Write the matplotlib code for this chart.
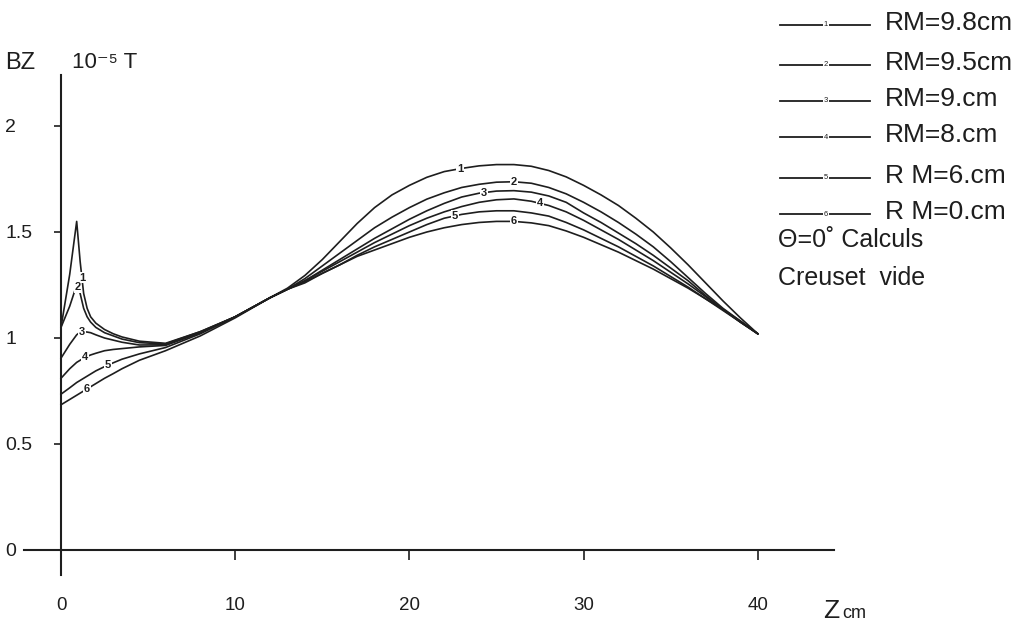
import numpy as np
import matplotlib.pyplot as plt
from matplotlib.lines import Line2D

plt.rcParams['font.family'] = ['Liberation Sans', 'DejaVu Sans']

# axial field BZ (10^-5 T) along z (cm), theta = 0, empty crucible
z = [0, 0.5, 0.9, 1.1, 1.3, 1.5, 1.7, 2, 2.5, 3, 3.5, 4.5, 6, 8, 10, 12,
     13, 14, 15, 16, 17, 18, 19, 20, 21, 22, 23, 24, 25, 26,
     27, 28, 29, 30, 31, 32, 33, 34, 35, 36, 37, 38, 39, 40]
bz_98 = [1.05, 1.30, 1.55, 1.36, 1.21, 1.14, 1.10, 1.07, 1.04, 1.02, 1.005, 0.985, 0.975, 1.03, 1.10, 1.19,
         1.235, 1.295, 1.37, 1.455, 1.54, 1.615, 1.675, 1.72, 1.758, 1.785, 1.80, 1.812, 1.818, 1.818,
         1.81, 1.79, 1.76, 1.72, 1.675, 1.625, 1.565, 1.50, 1.425, 1.345, 1.26, 1.175, 1.095, 1.02]
bz_95 = [1.05, 1.15, 1.25, 1.21, 1.14, 1.10, 1.075, 1.05, 1.025, 1.01, 0.995, 0.978, 0.972, 1.03, 1.10, 1.19,
         1.23, 1.28, 1.34, 1.40, 1.46, 1.52, 1.57, 1.615, 1.655, 1.685, 1.71, 1.725, 1.735, 1.737,
         1.73, 1.71, 1.68, 1.64, 1.595, 1.545, 1.49, 1.43, 1.36, 1.285, 1.21, 1.14, 1.08, 1.02]
bz_90 = [0.905, 0.97, 1.015, 1.028, 1.03, 1.028, 1.025, 1.015, 1.00, 0.99, 0.98, 0.967, 0.968, 1.025, 1.10, 1.19,
         1.23, 1.27, 1.32, 1.37, 1.42, 1.47, 1.515, 1.56, 1.60, 1.635, 1.665, 1.683, 1.693, 1.695,
         1.688, 1.67, 1.64, 1.59, 1.545, 1.495, 1.445, 1.39, 1.33, 1.27, 1.20, 1.135, 1.075, 1.02]
bz_80 = [0.81, 0.855, 0.885, 0.895, 0.905, 0.913, 0.92, 0.928, 0.94, 0.946, 0.95, 0.958, 0.965, 1.025, 1.10, 1.19,
         1.23, 1.27, 1.315, 1.36, 1.405, 1.45, 1.49, 1.53, 1.565, 1.595, 1.62, 1.64, 1.652, 1.656,
         1.645, 1.625, 1.595, 1.555, 1.51, 1.465, 1.415, 1.365, 1.31, 1.255, 1.195, 1.135, 1.075, 1.02]
bz_60 = [0.735, 0.765, 0.79, 0.80, 0.81, 0.82, 0.83, 0.845, 0.865, 0.883, 0.90, 0.925, 0.955, 1.02, 1.10, 1.19,
         1.23, 1.265, 1.305, 1.345, 1.39, 1.43, 1.465, 1.50, 1.535, 1.565, 1.583, 1.595, 1.60, 1.60,
         1.59, 1.575, 1.545, 1.51, 1.47, 1.43, 1.385, 1.34, 1.29, 1.24, 1.185, 1.13, 1.075, 1.02]
bz_00 = [0.685, 0.71, 0.73, 0.74, 0.75, 0.76, 0.77, 0.785, 0.81, 0.832, 0.855, 0.895, 0.94, 1.01, 1.095, 1.19,
         1.23, 1.26, 1.305, 1.345, 1.385, 1.415, 1.445, 1.475, 1.50, 1.52, 1.535, 1.545, 1.55, 1.55,
         1.543, 1.53, 1.505, 1.475, 1.44, 1.405, 1.365, 1.325, 1.28, 1.235, 1.185, 1.135, 1.08, 1.02]
curves = [bz_98, bz_95, bz_90, bz_80, bz_60, bz_00]
names = ['RM=9.8cm', 'RM=9.5cm', 'RM=9.cm', 'RM=8.cm', 'R M=6.cm', 'R M=0.cm']
lab_left = [1.2, 0.95, 1.2, 1.4, 2.7, 1.5]       # z of curve numbers near the wall
lab_right = [22.9, 26.0, 24.3, 27.5, 22.6, 26.0]  # z of curve numbers near the maximum

yticks = [0, 0.5, 1, 1.5, 2]
ytick_labels = ['0', '0.5', '1', '1.5', '2']
xticks = [0, 10, 20, 30, 40]
xtick_labels = ['0', '10', '20', '30', '40']

ink = '#1e1e1e'
W, H = 1030, 625
fig = plt.figure(figsize=(W / 100, H / 100), dpi=100)
ax = fig.add_axes([0, 0, 1, 1])
ax.patch.set_visible(False)

# pixel layout of the scanned figure
x0, px = 61, 17.42
y0, py = 550, 212
ax.set_xlim(-x0 / px, (W - x0) / px)
ax.set_ylim(-(H - y0) / py, y0 / py)

for s in ['top', 'right']:
    ax.spines[s].set_visible(False)
ax.spines['left'].set_position(('data', 0))
ax.spines['bottom'].set_position(('data', 0))
ax.spines['left'].set_bounds(-0.12, 2.24)
ax.spines['bottom'].set_bounds(-2.1, 44.4)
for s in ['left', 'bottom']:
    ax.spines[s].set_linewidth(1.5)
    ax.spines[s].set_color(ink)

ax.set_yticks(yticks)
ax.set_yticklabels(ytick_labels, ha='left')
ax.set_xticks(xticks)
ax.set_xticklabels(xtick_labels)
ax.tick_params(axis='y', length=5, width=1.2, pad=35, labelsize=14, colors=ink)
ax.tick_params(axis='x', length=7, width=1.2, pad=27, labelsize=13.5, colors=ink)

for i, bz in enumerate(curves):
    ax.plot(z, bz, color=ink, lw=1.2, solid_joinstyle='round')
    for zl in (lab_left[i], lab_right[i]):
        ax.text(zl, np.interp(zl, z, bz), str(i + 1), fontsize=8, color=ink,
                ha='center', va='center', fontweight='bold',
                bbox=dict(facecolor='white', edgecolor='none', pad=0.6))

# axis titles
fig.text(5 / W, 1 - 63 / H, 'BZ', fontsize=17, color=ink, va='center')
fig.text(72 / W, 1 - 63 / H, '10⁻⁵ T', fontsize=16, color=ink, va='center')
fig.text(823 / W, 1 - 611 / H, 'Z', fontsize=19, color=ink, va='center')
fig.text(842 / W, 1 - 613 / H, 'cm', fontsize=13, color=ink, va='center')

# hand lettered key
rows = [23, 63, 99, 135, 176, 212]
for i, name in enumerate(names):
    yf = 1 - (rows[i] + 2) / H
    fig.add_artist(Line2D([780 / W, 870 / W], [yf, yf], color=ink, lw=1.3))
    fig.text(826 / W, yf, str(i + 1), fontsize=5.5, color=ink, ha='center', va='center',
             bbox=dict(facecolor='white', edgecolor='none', pad=0.5))
    fig.text(885 / W, 1 - rows[i] / H, name, fontsize=19, color=ink, va='center')
fig.text(778 / W, 1 - 240 / H, 'Θ=0˚ Calculs', fontsize=18, color=ink, va='center')
fig.text(778 / W, 1 - 278 / H, 'Creuset  vide', fontsize=18, color=ink, va='center')

fig.savefig('out.png', dpi=100, facecolor='white')
